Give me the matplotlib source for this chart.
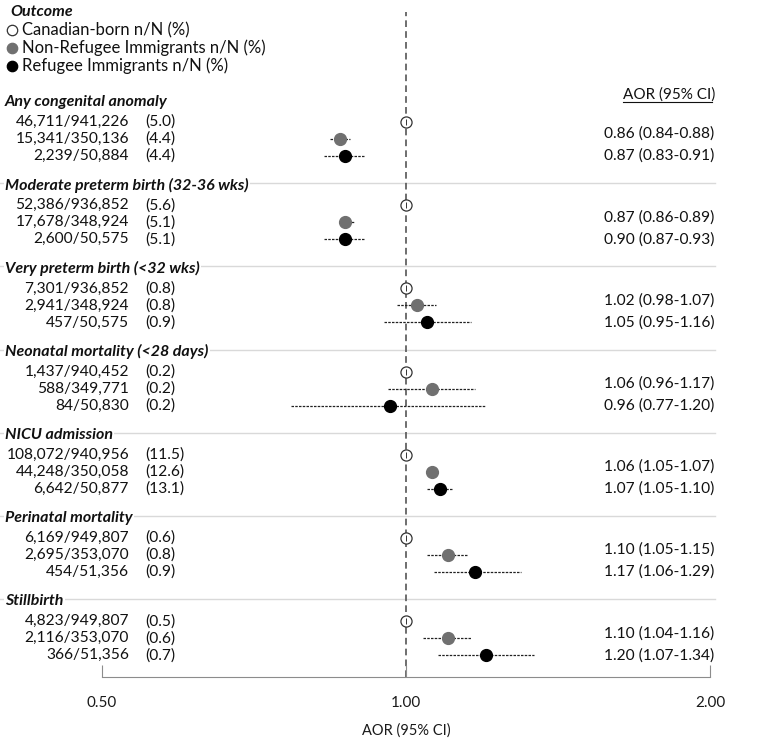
import matplotlib
matplotlib.use("Agg")
import matplotlib.pyplot as plt

plt.rcParams['font.family'] = ['Lato', 'DejaVu Sans']

# ---------------- data ----------------
outcomes = ["Any congenital anomaly", "Moderate preterm birth (32-36 wks)",
            "Very preterm birth (<32 wks)", "Neonatal mortality (<28 days)",
            "NICU admission", "Perinatal mortality", "Stillbirth"]
cb_counts = ["46,711/941,226", "52,386/936,852", "7,301/936,852", "1,437/940,452",
             "108,072/940,956", "6,169/949,807", "4,823/949,807"]
cb_pct = ["(5.0)", "(5.6)", "(0.8)", "(0.2)", "(11.5)", "(0.6)", "(0.5)"]
nr_counts = ["15,341/350,136", "17,678/348,924", "2,941/348,924", "588/349,771",
             "44,248/350,058", "2,695/353,070", "2,116/353,070"]
nr_pct = ["(4.4)", "(5.1)", "(0.8)", "(0.2)", "(12.6)", "(0.8)", "(0.6)"]
rf_counts = ["2,239/50,884", "2,600/50,575", "457/50,575", "84/50,830",
             "6,642/50,877", "454/51,356", "366/51,356"]
rf_pct = ["(4.4)", "(5.1)", "(0.9)", "(0.2)", "(13.1)", "(0.9)", "(0.7)"]

cb_aor = [1.0, 1.0, 1.0, 1.0, 1.0, 1.0, 1.0]
nr_aor = [0.86, 0.87, 1.025, 1.06, 1.06, 1.10, 1.10]
nr_lo = [0.84, 0.86, 0.98, 0.96, 1.05, 1.05, 1.04]
nr_hi = [0.88, 0.89, 1.07, 1.17, 1.07, 1.15, 1.16]
rf_aor = [0.87, 0.87, 1.05, 0.965, 1.08, 1.17, 1.20]
rf_lo = [0.83, 0.83, 0.95, 0.77, 1.05, 1.065, 1.075]
rf_hi = [0.91, 0.91, 1.16, 1.20, 1.11, 1.30, 1.34]

nr_label = ["0.86 (0.84-0.88)", "0.87 (0.86-0.89)", "1.02 (0.98-1.07)", "1.06 (0.96-1.17)",
            "1.06 (1.05-1.07)", "1.10 (1.05-1.15)", "1.10 (1.04-1.16)"]
rf_label = ["0.87 (0.83-0.91)", "0.90 (0.87-0.93)", "1.05 (0.95-1.16)", "0.96 (0.77-1.20)",
            "1.07 (1.05-1.10)", "1.17 (1.06-1.29)", "1.20 (1.07-1.34)"]

legend_labels = ["Canadian-born n/N (%)", "Non-Refugee Immigrants n/N (%)",
                 "Refugee Immigrants n/N (%)"]
xticks = [0.5, 1.0, 2.0]
xticklabels = ["0.50", "1.00", "2.00"]

# ---------------- layout ----------------
W, H = 767, 740
fig = plt.figure(figsize=(W / 100, H / 100), dpi=100)
AX_L, AX_R, AX_B = 102, 710, 677

ax = fig.add_axes([AX_L / W, (H - AX_B) / H, (AX_R - AX_L) / W, AX_B / H])
ax.set_xscale("log")
ax.set_xlim(0.5, 2.0)
ax.set_ylim(AX_B, 0)
ax.patch.set_alpha(0)
for s in ["top", "left", "right"]:
    ax.spines[s].set_visible(False)
ax.spines["bottom"].set_color("#8c8c8c")
ax.set_yticks([])
ax.set_xticks(xticks)
ax.set_xticklabels(xticklabels)
ax.minorticks_off()
ax.tick_params(axis="x", direction="in", length=9, color="#8c8c8c",
               labelsize=11, pad=14, labelcolor="#1a1a1a")
ax.set_xlabel("AOR (95% CI)", fontsize=10.5, color="#1a1a1a", labelpad=9)

ov = fig.add_axes([0, 0, 1, 1])
ov.set_xlim(0, W)
ov.set_ylim(H, 0)
ov.axis("off")
ov.set_zorder(ax.get_zorder() - 1)

FIRST_ROW, SEC_PITCH, ROW_PITCH, HDR_OFF = 122, 83.2, 17, -20

TXT = dict(fontsize=11.2, color="#111111", va="center")
GRAY = "#707070"

# legend
ov.text(10, 12, "Outcome", fontweight="bold", style="italic", ha="left",
        fontsize=11.5, color="#111111", va="center")
styles = [dict(mfc="white", mec="#333333"), dict(mfc=GRAY, mec=GRAY),
          dict(mfc="black", mec="black")]
for i, (lab, st) in enumerate(zip(legend_labels, styles)):
    y = 30 + 18 * i
    ov.plot([12], [y], marker="o", ms=7.5, mew=0.9, ls="none", **st)
    ov.text(22, y, lab, ha="left", fontsize=12, color="#111111", va="center")

ov.text(623, 95, "AOR (95% CI)", ha="left", fontsize=11, color="#111111",
        va="center")
ov.plot([623, 712], [102, 102], color="#111111", lw=0.8)

ax.axvline(1.0, ymin=0, ymax=1 - 12 / AX_B, color="#555555", lw=1.2,
           dashes=(4, 2.5), zorder=1)

for k, name in enumerate(outcomes):
    y0 = FIRST_ROW + SEC_PITCH * k
    ys = [y0, y0 + ROW_PITCH, y0 + 2 * ROW_PITCH]
    hy = y0 + HDR_OFF
    if k > 0:
        ov.plot([0, 715], [hy - 2, hy - 2], color="#d9d9d9", lw=1, zorder=0)
    ov.text(5, hy, name, fontweight="bold", style="italic", ha="left",
            fontsize=11.5, color="#111111", va="center", zorder=3,
            bbox=dict(facecolor="white", edgecolor="none", pad=1.0))
    for y, c, p in zip(ys, [cb_counts[k], nr_counts[k], rf_counts[k]],
                       [cb_pct[k], nr_pct[k], rf_pct[k]]):
        ov.text(129, y, c, ha="right", **TXT)
        ov.text(145, y, p, ha="left", **TXT)
    # reference (Canadian-born)
    ax.plot([cb_aor[k]], [ys[0]], marker="o", ms=8, mfc="white", mec="#333333",
            mew=0.9, ls="none", zorder=4)
    ax.plot([cb_aor[k]], [ys[0]], marker="|", ms=4, mec="#333333", mew=0.7,
            ls="none", zorder=5)
    # non-refugee
    ax.plot([nr_lo[k], nr_hi[k]], [ys[1], ys[1]], color="#222222", lw=0.9,
            dashes=(2, 1), zorder=3)
    ax.plot([nr_aor[k]], [ys[1]], marker="o", ms=8.5, mfc=GRAY, mec=GRAY,
            ls="none", zorder=4)
    # refugee
    ax.plot([rf_lo[k], rf_hi[k]], [ys[2], ys[2]], color="#222222", lw=0.9,
            dashes=(2, 1), zorder=3)
    ax.plot([rf_aor[k]], [ys[2]], marker="o", ms=8.5, mfc="black", mec="black",
            ls="none", zorder=4)
    ov.text(604, ys[1] - 5, nr_label[k], ha="left", **TXT)
    ov.text(604, ys[2], rf_label[k], ha="left", **TXT)

fig.savefig("out.png", dpi=100)
